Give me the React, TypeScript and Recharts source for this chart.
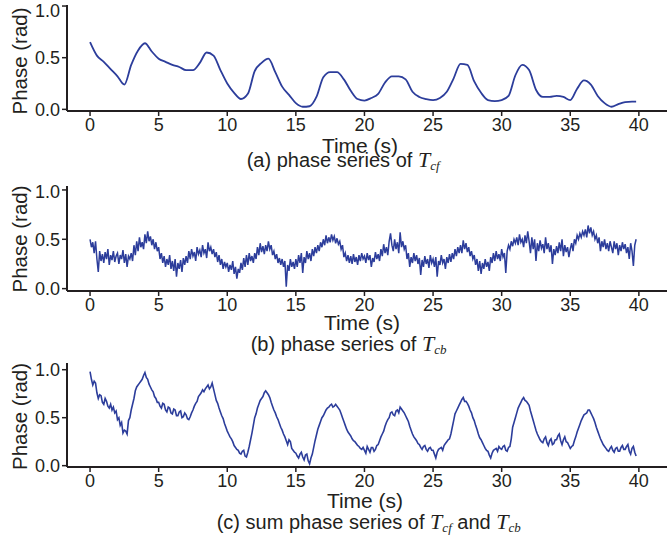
import { LineChart, Line, XAxis, YAxis } from 'recharts'

// phase (rad); a every 0.5 s, b and c every 0.1 s, last point at 39.8 s
const T_END = 39.8
const STEP_A = 0.5
const STEP_BC = 0.1

const phaseA = [
  0.65, 0.52, 0.46, 0.39, 0.32, 0.24, 0.43, 0.57, 0.64, 0.56,
  0.49, 0.46, 0.43, 0.41, 0.38, 0.38, 0.45, 0.55, 0.52, 0.38,
  0.25, 0.16, 0.10, 0.15, 0.37, 0.45, 0.49, 0.36, 0.22, 0.14,
  0.06, 0.025, 0.03, 0.12, 0.31, 0.36, 0.36, 0.29, 0.18, 0.10,
  0.085, 0.11, 0.15, 0.26, 0.32, 0.32, 0.29, 0.17, 0.12, 0.10,
  0.09, 0.11, 0.17, 0.30, 0.44, 0.43, 0.27, 0.16, 0.09, 0.08,
  0.09, 0.13, 0.33, 0.43, 0.38, 0.19, 0.12, 0.12, 0.13, 0.12,
  0.09, 0.20, 0.28, 0.24, 0.13, 0.06, 0.025, 0.05, 0.07, 0.075,
  0.075,
]

const phaseB = [
  0.50, 0.42, 0.47, 0.36, 0.48, 0.30, 0.17, 0.38, 0.28, 0.35,
  0.26, 0.37, 0.30, 0.40, 0.24, 0.34, 0.29, 0.38, 0.27, 0.33,
  0.36, 0.25, 0.34, 0.30, 0.39, 0.26, 0.35, 0.22, 0.33, 0.30,
  0.36, 0.28, 0.44, 0.34, 0.48, 0.38, 0.52, 0.42, 0.47, 0.40,
  0.55, 0.46, 0.58, 0.48, 0.53, 0.44, 0.50, 0.40, 0.47, 0.38,
  0.42, 0.30, 0.36, 0.26, 0.33, 0.22, 0.30, 0.24, 0.34, 0.20,
  0.28, 0.18, 0.30, 0.12, 0.26, 0.20, 0.29, 0.17, 0.31, 0.24,
  0.33, 0.26, 0.38, 0.30, 0.40, 0.33, 0.37, 0.28, 0.42, 0.35,
  0.39, 0.32, 0.44, 0.36, 0.40, 0.31, 0.47, 0.38, 0.42, 0.35,
  0.40, 0.32, 0.37, 0.27, 0.34, 0.24, 0.30, 0.20, 0.27, 0.22,
  0.26, 0.17, 0.24, 0.19, 0.28, 0.15, 0.22, 0.10, 0.20, 0.16,
  0.26, 0.19, 0.31, 0.22, 0.34, 0.24, 0.36, 0.28, 0.33, 0.26,
  0.36, 0.30, 0.42, 0.34, 0.46, 0.37, 0.43, 0.35, 0.44, 0.38,
  0.48, 0.40, 0.44, 0.34, 0.38, 0.30, 0.35, 0.26, 0.31, 0.24,
  0.30, 0.22, 0.28, 0.02, 0.24, 0.18, 0.30, 0.22, 0.27, 0.20,
  0.30, 0.22, 0.34, 0.26, 0.36, 0.16, 0.32, 0.26, 0.38, 0.30,
  0.36, 0.28, 0.40, 0.33, 0.42, 0.36, 0.44, 0.38, 0.47, 0.42,
  0.50, 0.44, 0.54, 0.46, 0.52, 0.47, 0.55, 0.49, 0.53, 0.46,
  0.51, 0.45, 0.48, 0.40, 0.44, 0.32, 0.36, 0.28, 0.34, 0.26,
  0.33, 0.25, 0.35, 0.27, 0.32, 0.24, 0.34, 0.28, 0.36, 0.30,
  0.33, 0.26, 0.36, 0.29, 0.34, 0.22, 0.31, 0.27, 0.37, 0.30,
  0.35, 0.28, 0.40, 0.33, 0.45, 0.36, 0.42, 0.34, 0.48, 0.56,
  0.44, 0.38, 0.50, 0.40, 0.47, 0.36, 0.57, 0.42, 0.48, 0.40,
  0.44, 0.30, 0.36, 0.22, 0.32, 0.26, 0.36, 0.28, 0.34, 0.25,
  0.31, 0.14, 0.29, 0.22, 0.33, 0.25, 0.30, 0.21, 0.34, 0.26,
  0.30, 0.22, 0.32, 0.12, 0.28, 0.24, 0.34, 0.26, 0.30, 0.20,
  0.32, 0.26, 0.35, 0.27, 0.36, 0.30, 0.40, 0.33, 0.42, 0.36,
  0.44, 0.36, 0.49, 0.40, 0.46, 0.37, 0.42, 0.33, 0.38, 0.30,
  0.34, 0.24, 0.30, 0.18, 0.28, 0.15, 0.26, 0.20, 0.30, 0.22,
  0.27, 0.18, 0.32, 0.26, 0.36, 0.28, 0.38, 0.30, 0.35, 0.28,
  0.40, 0.32, 0.36, 0.16, 0.38, 0.44, 0.40, 0.48, 0.43, 0.50,
  0.46, 0.52, 0.44, 0.55, 0.47, 0.50, 0.42, 0.54, 0.46, 0.58,
  0.48, 0.36, 0.52, 0.40, 0.50, 0.28, 0.46, 0.38, 0.49, 0.41,
  0.45, 0.36, 0.52, 0.40, 0.46, 0.37, 0.44, 0.25, 0.40, 0.34,
  0.43, 0.36, 0.47, 0.38, 0.50, 0.33, 0.44, 0.37, 0.42, 0.32,
  0.40, 0.46, 0.38, 0.50, 0.46, 0.54, 0.50, 0.56, 0.52, 0.58,
  0.54, 0.60, 0.52, 0.64, 0.56, 0.62, 0.54, 0.58, 0.50, 0.54,
  0.46, 0.52, 0.38, 0.48, 0.42, 0.50, 0.40, 0.46, 0.38, 0.48,
  0.42, 0.36, 0.48, 0.40, 0.46, 0.34, 0.44, 0.38, 0.47, 0.40,
  0.45, 0.36, 0.42, 0.30, 0.46, 0.38, 0.23, 0.44, 0.50,
]

const phaseC = [
  0.98, 0.90, 0.84, 0.88, 0.86, 0.76, 0.70, 0.74, 0.73, 0.66,
  0.64, 0.70, 0.67, 0.62, 0.60, 0.64, 0.58, 0.61, 0.55, 0.57,
  0.48, 0.50, 0.42, 0.45, 0.34, 0.37, 0.36, 0.33, 0.47, 0.50,
  0.58, 0.64, 0.70, 0.78, 0.82, 0.84, 0.86, 0.88, 0.90, 0.94,
  0.97, 0.92, 0.90, 0.85, 0.82, 0.79, 0.77, 0.72, 0.70, 0.66,
  0.66, 0.62, 0.60, 0.65, 0.64, 0.58, 0.56, 0.61, 0.60, 0.55,
  0.54, 0.59, 0.58, 0.52, 0.52, 0.56, 0.57, 0.50, 0.51, 0.55,
  0.53, 0.49, 0.48, 0.51, 0.55, 0.58, 0.62, 0.65, 0.67, 0.72,
  0.74, 0.76, 0.79, 0.77, 0.80, 0.82, 0.84, 0.80, 0.82, 0.86,
  0.80, 0.74, 0.68, 0.65, 0.60, 0.56, 0.52, 0.49, 0.44, 0.40,
  0.36, 0.33, 0.30, 0.28, 0.25, 0.21, 0.19, 0.17, 0.16, 0.13,
  0.12, 0.15, 0.16, 0.10, 0.09, 0.14, 0.20, 0.27, 0.34, 0.42,
  0.50, 0.54, 0.60, 0.64, 0.68, 0.70, 0.72, 0.76, 0.78, 0.76,
  0.74, 0.71, 0.66, 0.62, 0.58, 0.55, 0.51, 0.48, 0.44, 0.40,
  0.37, 0.33, 0.30, 0.26, 0.22, 0.27, 0.25, 0.18, 0.16, 0.14,
  0.13, 0.10, 0.08, 0.12, 0.14, 0.09, 0.06, 0.11, 0.12, 0.05,
  0.02, 0.08, 0.12, 0.19, 0.26, 0.32, 0.38, 0.42, 0.46, 0.50,
  0.52, 0.55, 0.58, 0.60, 0.61, 0.63, 0.64, 0.61, 0.62, 0.64,
  0.62, 0.60, 0.58, 0.54, 0.50, 0.46, 0.42, 0.38, 0.35, 0.33,
  0.31, 0.28, 0.26, 0.25, 0.23, 0.21, 0.20, 0.18, 0.17, 0.19,
  0.16, 0.13, 0.20, 0.17, 0.14, 0.19, 0.19, 0.15, 0.17, 0.21,
  0.22, 0.26, 0.30, 0.33, 0.36, 0.41, 0.45, 0.48, 0.50, 0.55,
  0.56, 0.53, 0.52, 0.57, 0.58, 0.55, 0.61, 0.59, 0.57, 0.55,
  0.52, 0.49, 0.46, 0.41, 0.37, 0.33, 0.30, 0.28, 0.26, 0.23,
  0.22, 0.19, 0.17, 0.20, 0.21, 0.17, 0.15, 0.18, 0.19, 0.16,
  0.16, 0.12, 0.08, 0.14, 0.17, 0.18, 0.19, 0.16, 0.21, 0.23,
  0.25, 0.27, 0.28, 0.33, 0.40, 0.47, 0.54, 0.57, 0.60, 0.63,
  0.66, 0.69, 0.71, 0.67, 0.67, 0.65, 0.62, 0.58, 0.55, 0.50,
  0.47, 0.42, 0.38, 0.33, 0.29, 0.27, 0.24, 0.21, 0.18, 0.16,
  0.15, 0.11, 0.08, 0.13, 0.16, 0.17, 0.18, 0.15, 0.20, 0.18,
  0.17, 0.20, 0.21, 0.16, 0.15, 0.19, 0.20, 0.28, 0.40, 0.45,
  0.50, 0.55, 0.60, 0.63, 0.66, 0.69, 0.71, 0.68, 0.67, 0.65,
  0.63, 0.57, 0.52, 0.47, 0.42, 0.37, 0.33, 0.30, 0.27, 0.25,
  0.24, 0.28, 0.30, 0.24, 0.21, 0.26, 0.28, 0.22, 0.23, 0.27,
  0.27, 0.31, 0.33, 0.26, 0.22, 0.27, 0.30, 0.25, 0.24, 0.21,
  0.18, 0.20, 0.21, 0.26, 0.30, 0.35, 0.39, 0.43, 0.47, 0.50,
  0.53, 0.54, 0.55, 0.58, 0.58, 0.55, 0.52, 0.49, 0.45, 0.40,
  0.36, 0.32, 0.28, 0.25, 0.22, 0.20, 0.18, 0.16, 0.15, 0.18,
  0.20, 0.16, 0.14, 0.18, 0.19, 0.15, 0.15, 0.19, 0.21, 0.17,
  0.17, 0.20, 0.22, 0.15, 0.12, 0.18, 0.20, 0.14, 0.10,
]

const timeTicks = [0, 5, 10, 15, 20, 25, 30, 35, 40]
const phaseTicks = [0, 0.5, 1]

const toRows = (vals: number[], step: number) =>
  vals.map((v, i) => ({ t: Math.min(+(i * step).toFixed(2), T_END), v }))

const INK = '#231f20'
const BLUE = '#2c3d9b'
const SANS = '"Liberation Sans", Arial, sans-serif'
const NARROW = '"Liberation Sans Narrow", "Arial Narrow", "Liberation Sans", sans-serif'
const SERIF = '"Liberation Serif", "Times New Roman", serif'
const X_DOMAIN: [number, number] = [-1.68, 42.05]

type PanelProps = {
  rows: { t: number; v: number }[]
  top: number
  plotH: number
  yDomain: [number, number]
  curve: 'monotone' | 'linear'
  width: number
}

function Panel({ rows, top, plotH, yDomain, curve, width }: PanelProps) {
  const tickStyle = { fontSize: 18, fill: INK, fontFamily: NARROW }
  return (
    <div style={{ position: 'absolute', left: 0, top }}>
      <LineChart width={667} height={5 + plotH + 30} data={rows} margin={{ top: 5, right: 0, bottom: 0, left: 0 }}>
        <XAxis
          dataKey="t"
          type="number"
          domain={X_DOMAIN}
          ticks={timeTicks}
          allowDataOverflow
          height={30}
          tick={tickStyle}
          tickSize={5}
          tickMargin={2}
          axisLine={{ stroke: INK, strokeWidth: 2 }}
          tickLine={{ stroke: INK, strokeWidth: 1.5 }}
        />
        <XAxis
          xAxisId="top"
          orientation="top"
          dataKey="t"
          type="number"
          domain={X_DOMAIN}
          height={0}
          tick={false}
          tickLine={false}
          axisLine={{ stroke: INK, strokeWidth: 2 }}
        />
        <YAxis
          type="number"
          domain={yDomain}
          ticks={phaseTicks}
          allowDataOverflow
          width={67}
          tickFormatter={(v: number) => v.toFixed(1)}
          tick={tickStyle}
          tickSize={5}
          tickMargin={2}
          axisLine={{ stroke: INK, strokeWidth: 2 }}
          tickLine={{ stroke: INK, strokeWidth: 1.5 }}
        />
        <Line
          type={curve}
          dataKey="v"
          stroke={BLUE}
          strokeWidth={width}
          dot={false}
          isAnimationActive={false}
        />
      </LineChart>
    </div>
  )
}

function Caption({ x, y, letter, pre, subs }: { x: number; y: number; letter: string; pre: string; subs: string[] }) {
  return (
    <text x={x} y={y} fontSize={20} fontFamily={SANS} fill={INK}>
      {`(${letter}) ${pre} `}
      <tspan fontFamily={SERIF} fontStyle="italic" fontSize={22}>T</tspan>
      <tspan fontFamily={SERIF} fontStyle="italic" fontSize={13} dy={3}>{subs[0]}</tspan>
      {subs[1] && (
        <>
          <tspan dy={-3}> and </tspan>
          <tspan fontFamily={SERIF} fontStyle="italic" fontSize={22}>T</tspan>
          <tspan fontFamily={SERIF} fontStyle="italic" fontSize={13} dy={3}>{subs[1]}</tspan>
        </>
      )}
    </text>
  )
}

export default function App() {
  const ylabels = [61, 239, 416.5]
  return (
    <div style={{ position: 'absolute', left: 0, top: 0, width: 667, height: 539, background: '#fff' }}>
      <Panel rows={toRows(phaseA, STEP_A)} top={0} plotH={106} yDomain={[-0.016, 1.01]} curve="monotone" width={1.8} />
      <Panel rows={toRows(phaseB, STEP_BC)} top={181} plotH={105} yDomain={[-0.024, 1.04]} curve="linear" width={1.5} />
      <Panel rows={toRows(phaseC, STEP_BC)} top={358} plotH={104} yDomain={[-0.014, 1.07]} curve="linear" width={1.6} />
      <svg width={667} height={539} style={{ position: 'absolute', left: 0, top: 0, pointerEvents: 'none' }}>
        {ylabels.map((cy) => (
          <text key={cy} x={26.5} y={cy} transform={`rotate(-90 26.5 ${cy})`} textAnchor="middle" fontSize={20.5} fontFamily={SANS} fill={INK}>
            Phase (rad)
          </text>
        ))}
        <text x={360} y={153} textAnchor="middle" fontSize={21} fontFamily={SANS} fill={INK}>Time (s)</text>
        <text x={362} y={329.5} textAnchor="middle" fontSize={21} fontFamily={SANS} fill={INK}>Time (s)</text>
        <text x={365} y={508} textAnchor="middle" fontSize={21} fontFamily={SANS} fill={INK}>Time (s)</text>
        <Caption x={246.7} y={167} letter="a" pre="phase series of" subs={['cf']} />
        <Caption x={250.7} y={351} letter="b" pre="phase series of" subs={['cb']} />
        <Caption x={216.7} y={529} letter="c" pre="sum phase series of" subs={['cf', 'cb']} />
      </svg>
    </div>
  )
}
